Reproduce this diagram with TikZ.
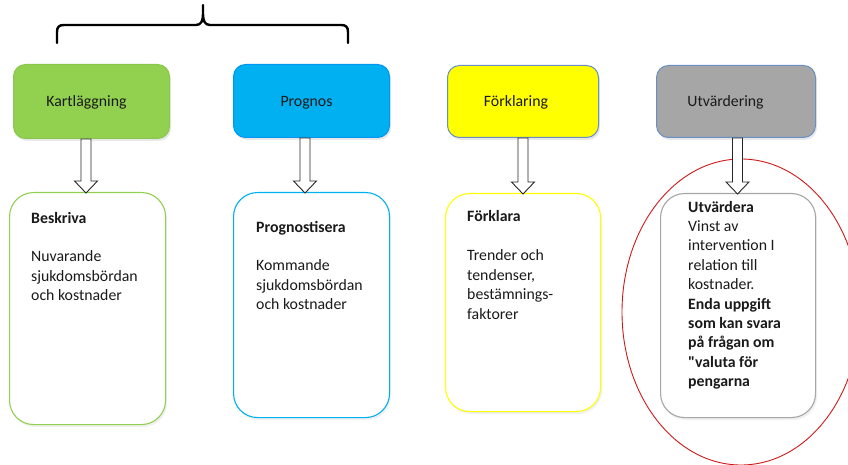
\documentclass[tikz,border=0pt]{standalone}
\usepackage{fontspec}
\setmainfont{Carlito}
\newfontfamily\rawfont{Carlito}
\usetikzlibrary{shapes.geometric,shadows,calc}
\definecolor{kgreen}{HTML}{92D050}
\definecolor{kcyan}{HTML}{00B0F0}
\definecolor{kyellow}{HTML}{FFFF00}
\definecolor{kgray}{HTML}{A6A6A6}
\definecolor{kblue}{HTML}{6A8FC6}
\definecolor{kred}{HTML}{D01818}
\definecolor{ktext}{HTML}{1A1A1A}
\newcommand\bodyfont{\fontsize{15.8}{19.4}\selectfont}
\tikzset{
  topbox/.style={rectangle, rounded corners=12pt, anchor=north west, inner sep=0pt, line width=1pt,
    drop shadow={shadow xshift=1.5pt, shadow yshift=-2.5pt, opacity=0.18}},
  lowbox/.style={rectangle, rounded corners=24pt, anchor=north west, inner sep=0pt, line width=1.1pt, fill=white,
    drop shadow={shadow xshift=1.5pt, shadow yshift=-2.5pt, opacity=0.12}},
  toplabel/.style={anchor=base, inner sep=0pt, font=\bodyfont, text=ktext},
  bodytext/.style={anchor=base west, inner sep=0pt, font=\bodyfont, text=ktext},
  barrow/.style={draw=black!85, fill=white, line width=0.9pt, line join=miter},
  bracepath/.style={draw=black, line width=2.4pt, line cap=round, line join=round}
}
\newcommand\blockarrow[3]{%
  \draw[barrow] let \p1=($(#1.south)+(#3pt,0)$), \p2=(#2.north) in
    (\x1-5pt,\y1) -- (\x1-5pt,\y2+11pt) -- (\x1-11.5pt,\y2+11pt) -- (\x1,\y2-1pt)
    -- (\x1+11.5pt,\y2+11pt) -- (\x1+5pt,\y2+11pt) -- (\x1+5pt,\y1) -- cycle;}
\begin{document}
\begin{tikzpicture}[x=1pt,y=-1pt]
\useasboundingbox (0,0) rectangle (848,465);

% brace
\draw[bracepath] (57,43) -- (57,32) .. controls (57,27) and (59,25) .. (64,25) -- (196,25)
  .. controls (201,25) and (203,21) .. (203,14) -- (203,5) -- (203,14)
  .. controls (203,21) and (205,25) .. (210,25) -- (341,25)
  .. controls (346,25) and (348,27) .. (348,32) -- (348,43);

% top boxes
\node[topbox, fill=kgreen, draw=kgreen!95!black, minimum width=156pt, minimum height=74pt] (k) at (13,64) {};
\node[topbox, fill=kcyan, draw=kcyan!85!blue, minimum width=156pt, minimum height=73pt] (p) at (233,64) {};
\node[topbox, fill=kyellow, draw=kblue, minimum width=151pt, minimum height=72pt] (f) at (447,65) {};
\node[topbox, fill=kgray, draw=kblue, minimum width=159pt, minimum height=72pt] (u) at (656,65) {};

\node[toplabel] (kl) at (86.5,107) {Kartläggning};
\node[toplabel] (pl) at (306.5,107) {Prognos};
\node[toplabel] (fl) at (516,107) {Förklaring};
\node[toplabel] (ul) at (725.5,107) {Utvärdering};

% red ellipse
\node[ellipse, draw=kred, line width=0.9pt, minimum width=238pt, minimum height=306pt, inner sep=0pt] (ell) at (741,312) {};

% bottom boxes
\node[lowbox, draw=kgreen, minimum width=156pt, minimum height=232pt] (b1) at (9,192) {};
\node[lowbox, draw=kcyan, minimum width=156pt, minimum height=225pt] (b2) at (233,192) {};
\node[lowbox, draw=kyellow, minimum width=155pt, minimum height=218pt] (b3) at (445,193) {};
\node[lowbox, draw=kgray, minimum width=155pt, minimum height=224pt] (b4) at (660,193) {};

% arrows
\blockarrow{k}{b1}{-5.5}
\blockarrow{p}{b2}{-6.5}
\blockarrow{f}{b3}{0}
\blockarrow{u}{b4}{1.5}

% texts
\node[bodytext] (t1) at (31,223) {\begin{tabular}[t]{@{}l@{}}\textbf{Beskriva}\\[19.4pt] Nuvarande\\ sjukdomsbördan\\ och kostnader\end{tabular}};
\node[bodytext] (t2) at (256,232) {\begin{tabular}[t]{@{}l@{}}\textbf{Prognostisera}\\[19.4pt] Kommande\\ sjukdomsbördan\\ och kostnader\end{tabular}};
\node[bodytext] (t3) at (467,222) {\begin{tabular}[t]{@{}l@{}}\textbf{Förklara}\\[19.4pt] Trender och\\ tendenser,\\ bestämnings-\\ faktorer\end{tabular}};
\node[bodytext] (t4) at (688,212) {\begin{tabular}[t]{@{}l@{}}\textbf{Utvärdera}\\ Vinst av\\ intervention I\\ relation till\\ kostnader.\\ \textbf{Enda uppgift}\\ \textbf{som kan svara}\\ \textbf{på frågan om}\\ \textbf{{\rawfont "}valuta för}\\ \textbf{pengarna}\end{tabular}};
\end{tikzpicture}
\end{document}
